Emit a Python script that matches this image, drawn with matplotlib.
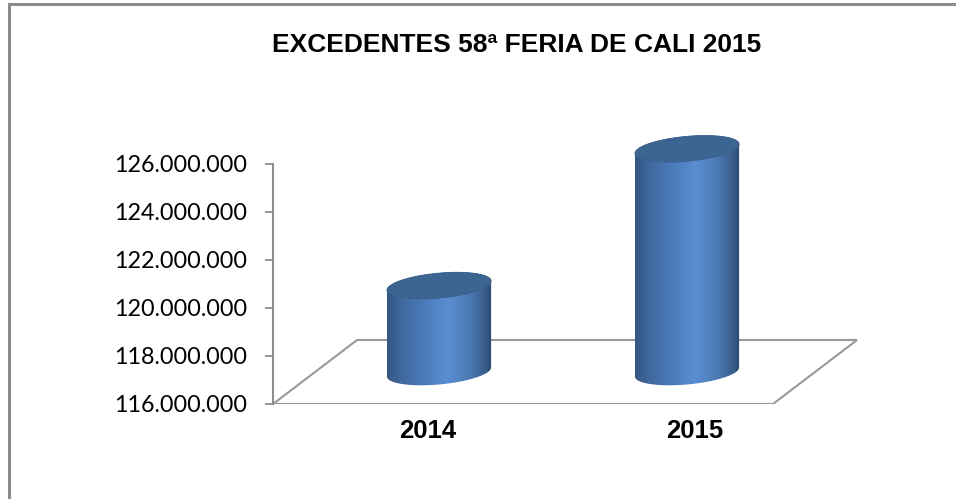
import numpy as np
import matplotlib
matplotlib.use("Agg")
import matplotlib.pyplot as plt
from matplotlib.patches import Polygon, Rectangle
from matplotlib.colors import LinearSegmentedColormap
from matplotlib.ticker import FuncFormatter

# data
categories = ["2014", "2015"]
values = [119_600_000, 125_300_000]
y_ticks = [116_000_000, 118_000_000, 120_000_000, 122_000_000, 124_000_000, 126_000_000]
title = "EXCEDENTES 58ª FERIA DE CALI 2015"

base = 116_000_000
depth_dx = 0.339        # oblique floor offset (category units)
depth_dy = 2_667_000    # oblique floor offset (value units)
radius_x = 0.21
radius_y = 520_000
shear = 190_000

fig = plt.figure(figsize=(9.56, 4.99), dpi=100)
W, H = 956, 499
# axes placed so the value axis sits at x=273 px, 116M at y=404 px, 24 px per million
left, bottom_px = 273, 404
px_per_unit = 248
xlim = (-0.5, 1.86)
ylim = (base, 128_500_000)
ax_w = (xlim[1] - xlim[0]) * px_per_unit
ax_h = (ylim[1] - ylim[0]) / 1e6 * 24
ax = fig.add_axes([left / W, (H - bottom_px) / H, ax_w / W, ax_h / H])
ax.set_xlim(*xlim)
ax.set_ylim(*ylim)

# outer chart border
fig.patches.append(Rectangle((9 / W, -0.01), 1.0, 1.0 - 4 / H + 0.01, transform=fig.transFigure,
                             fill=False, edgecolor="#8c8c8c", linewidth=2.2))

for s in ["top", "right", "bottom"]:
    ax.spines[s].set_visible(False)
ax.spines["left"].set_color("#8c8c8c")
ax.spines["left"].set_linewidth(1.5)
ax.spines["left"].set_bounds(y_ticks[0], y_ticks[-1])

ax.set_yticks(y_ticks)
ax.yaxis.set_major_formatter(FuncFormatter(lambda v, p: f"{v:,.0f}".replace(",", ".")))
ax.tick_params(axis="y", direction="out", length=6, width=1.3, color="#8c8c8c",
               pad=12.5, labelsize=16.8, labelcolor="black")
for lab in ax.get_yticklabels():
    lab.set_fontfamily("Lato")

# category labels
label_x = [0.125, 1.2]
ax.set_xticks(label_x)
ax.set_xticklabels(categories, fontfamily="Liberation Sans", fontweight="bold", fontsize=18.5)
ax.tick_params(axis="x", length=0, pad=11)

# floor
x0, x1 = -0.5, 1.516
floor = Polygon([(x0, base), (x1, base), (x1 + depth_dx, base + depth_dy), (x0 + depth_dx, base + depth_dy)],
                closed=True, fill=False, edgecolor="#999999", linewidth=1.5, zorder=1)
ax.add_patch(floor)

cmap = LinearSegmentedColormap.from_list("cyl", [
    (0.0, "#34557f"), (0.12, "#3f679b"), (0.35, "#4a7bbb"), (0.58, "#5a8ed2"),
    (0.8, "#4b78b0"), (0.93, "#3a5f8c"), (1.0, "#2c4870")])

t = np.linspace(0, 2 * np.pi, 200)
for i, v in enumerate(values):
    cx = i + depth_dx / 2
    yb = base + depth_dy / 2
    yt = v + depth_dy / 2

    def ell(cy, tt):
        return cx + radius_x * np.cos(tt), cy + radius_y * np.sin(tt) + shear * np.cos(tt)

    # body: front half of bottom ellipse, then back half of top ellipse
    tb = np.linspace(np.pi, 2 * np.pi, 100)
    tt_ = np.linspace(0, np.pi, 100)
    bx, by = ell(yb, tb)
    tx, ty = ell(yt, tt_)
    pts = np.column_stack([np.concatenate([bx, tx]), np.concatenate([by, ty])])
    body = Polygon(pts, closed=True, facecolor="none", edgecolor="none", zorder=3)
    ax.add_patch(body)
    grad = np.linspace(0, 1, 256).reshape(1, -1)
    im = ax.imshow(grad, cmap=cmap, aspect="auto", interpolation="bicubic",
                   extent=(cx - radius_x, cx + radius_x, yb - 2 * radius_y, yt + 2 * radius_y),
                   zorder=3)
    im.set_clip_path(body)

    ex, ey = ell(yt, t)
    top = Polygon(np.column_stack([ex, ey]), closed=True, facecolor="#3d6592",
                  edgecolor="#3a5f8c", linewidth=0.6, zorder=4)
    ax.add_patch(top)

ax.set_xlim(*xlim)
ax.set_ylim(*ylim)

fig.text(517 / W, 1 - 45 / H, title, ha="center", va="center", fontsize=19,
         fontweight="bold", fontfamily="Liberation Sans")

fig.savefig("out.png", dpi=100)
